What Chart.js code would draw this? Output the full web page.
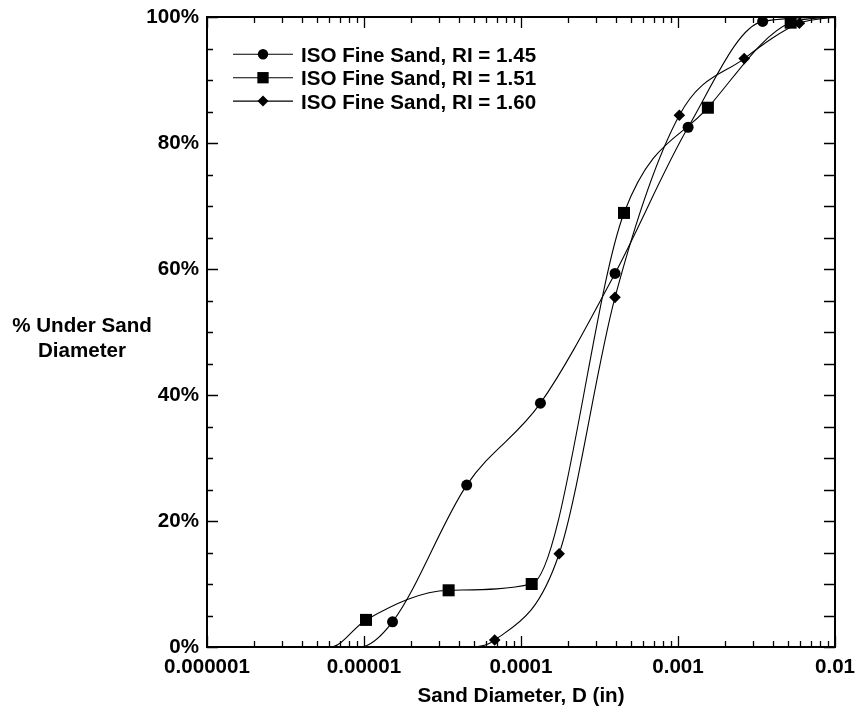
<!DOCTYPE html>
<html>
<head>
<meta charset="utf-8">
<script src="https://cdn.jsdelivr.net/npm/chart.js@4/dist/chart.umd.min.js"></script>
<style>
  html, body { margin: 0; padding: 0; background: #fff; }
  #wrap { width: 856px; height: 708px; }
</style>
</head>
<body>
<div id="wrap"><canvas id="c" width="856" height="708"></canvas></div>
<script>
// ---- data -------------------------------------------------------------
const seriesNames = [
  'ISO Fine Sand, RI = 1.45',
  'ISO Fine Sand, RI = 1.51',
  'ISO Fine Sand, RI = 1.60'
];
const diam145 = [1.52e-5, 4.51e-5, 1.33e-4, 3.97e-4, 1.16e-3, 3.46e-3];
const pct145  = [4.0, 25.7, 38.7, 59.3, 82.5, 99.3];
const diam151 = [1.03e-5, 3.46e-5, 1.17e-4, 4.53e-4, 1.55e-3, 5.22e-3];
const pct151  = [4.3, 9.0, 10.0, 68.9, 85.6, 99.1];
const diam160 = [6.8e-5, 1.75e-4, 3.97e-4, 1.02e-3, 2.64e-3, 5.93e-3];
const pct160  = [1.1, 14.8, 55.5, 84.4, 93.4, 99.0];
// diameter where each fitted curve leaves 0 %
const curveStart = [9.4e-6, 6.1e-6, 4.5e-5];
const xDecades = [1e-6, 1e-5, 1e-4, 1e-3, 1e-2];
const xTickLabels = ['0.000001', '0.00001', '0.0001', '0.001', '0.01'];
const yTickLabels = ['0%', '20%', '40%', '60%', '80%', '100%'];

// ---- styling ----------------------------------------------------------
const FONT = { family: '"Liberation Sans", Arial, sans-serif', size: 20.6, weight: 'bold' };
const FONT_CSS = 'bold 20.6px "Liberation Sans", Arial, sans-serif';
const markerStyles = ['circle', 'rect', 'rectRot'];
const markerRadii = [5.5, 8.5, 5.8];
const legendRadii = [5.2, 8.0, 5.5];

const X_MIN = xDecades[0], X_MAX = xDecades[xDecades.length - 1];

function buildCurve(diams, pcts, start) {
  const pts = [{ x: X_MIN, y: 0 }, { x: start, y: 0 }];
  diams.forEach((d, i) => pts.push({ x: d, y: pcts[i], marker: true }));
  pts.push({ x: X_MAX, y: 100 });
  return pts;
}

const series = [
  buildCurve(diam145, pct145, curveStart[0]),
  buildCurve(diam151, pct151, curveStart[1]),
  buildCurve(diam160, pct160, curveStart[2])
];

function drawMarker(ctx, style, x, y, r) {
  ctx.beginPath();
  if (style === 'circle') {
    ctx.arc(x, y, r, 0, Math.PI * 2);
  } else if (style === 'rect') {
    const s = r * Math.SQRT1_2;
    ctx.rect(x - s, y - s, 2 * s, 2 * s);
  } else {
    ctx.moveTo(x - r, y); ctx.lineTo(x, y - r);
    ctx.lineTo(x + r, y); ctx.lineTo(x, y + r);
    ctx.closePath();
  }
  ctx.fill();
}

// frame, inward tick marks, axis titles and the in-plot legend
const decorations = {
  id: 'decorations',
  afterDatasetsDraw(chart) {
    const { ctx, chartArea: a, scales } = chart;
    const xs = scales.x, ys = scales.y;
    ctx.save();
    ctx.strokeStyle = '#000';
    ctx.lineCap = 'butt';

    // ticks
    ctx.lineWidth = 1.3;
    ctx.beginPath();
    for (let e = -6; e <= -2; e++) {
      for (let k = 1; k <= 9; k++) {
        const v = k * Math.pow(10, e);
        if (v > X_MAX * 1.0001) break;
        const px = Math.round(xs.getPixelForValue(v)) + 0.5;
        const len = k === 1 ? 11 : 6;
        ctx.moveTo(px, a.bottom); ctx.lineTo(px, a.bottom - len);
        ctx.moveTo(px, a.top); ctx.lineTo(px, a.top + len);
      }
    }
    for (let v = 0; v <= 100; v += 5) {
      const py = Math.round(ys.getPixelForValue(v)) + 0.5;
      const len = v % 20 === 0 ? 11 : 6;
      ctx.moveTo(a.left, py); ctx.lineTo(a.left + len, py);
      ctx.moveTo(a.right, py); ctx.lineTo(a.right - 11, py);
    }
    ctx.stroke();

    // frame
    ctx.lineWidth = 2;
    ctx.strokeRect(a.left, a.top, a.right - a.left, a.bottom - a.top);

    // axis titles
    ctx.fillStyle = '#000';
    ctx.font = FONT_CSS;
    ctx.textAlign = 'center';
    ctx.textBaseline = 'alphabetic';
    ctx.fillText('Sand Diameter, D (in)', (a.left + a.right) / 2, 701.5);
    ctx.fillText('% Under Sand', 82, 332);
    ctx.fillText('Diameter', 82, 357);

    // legend
    ctx.textAlign = 'left';
    chart.data.datasets.forEach((ds, i) => {
      const cy = 54.3 + i * 23.4;
      ctx.lineWidth = 1.1;
      ctx.beginPath();
      ctx.moveTo(233, cy); ctx.lineTo(293, cy);
      ctx.stroke();
      drawMarker(ctx, markerStyles[i], 263, cy, legendRadii[i]);
      ctx.fillText(ds.label, 301, cy + 7.4);
    });
    ctx.restore();
  }
};

new Chart(document.getElementById('c'), {
  type: 'line',
  data: {
    datasets: series.map((pts, i) => ({
      label: seriesNames[i],
      data: pts,
      borderColor: '#000',
      backgroundColor: '#000',
      borderWidth: 1.1,
      fill: false,
      cubicInterpolationMode: 'monotone',
      pointStyle: markerStyles[i],
      pointRadius: c => (c.raw && c.raw.marker ? markerRadii[i] : 0),
      pointHoverRadius: c => (c.raw && c.raw.marker ? markerRadii[i] : 0),
      pointBorderWidth: 0,
      pointBackgroundColor: '#000'
    }))
  },
  options: {
    responsive: false,
    animation: false,
    devicePixelRatio: 1,
    events: [],
    layout: { padding: { top: 17, right: 21, left: 0, bottom: 0 } },
    plugins: { legend: { display: false }, tooltip: { enabled: false } },
    scales: {
      x: {
        type: 'logarithmic',
        min: X_MIN,
        max: X_MAX,
        grid: { display: false, drawTicks: false },
        border: { display: false },
        afterBuildTicks: s => { s.ticks = xDecades.map(v => ({ value: v })); },
        ticks: {
          autoSkip: false,
          maxRotation: 0,
          padding: 8,
          color: '#000',
          font: FONT,
          callback: (v, i) => xTickLabels[i]
        },
        afterFit: s => {
          s.height = 61;
          s.paddingLeft = 0; s.paddingRight = 0;
          s.paddingTop = 0; s.paddingBottom = 0;
        }
      },
      y: {
        min: 0,
        max: 100,
        grid: { display: false, drawTicks: false },
        border: { display: false },
        ticks: {
          stepSize: 20,
          padding: 8,
          color: '#000',
          font: FONT,
          callback: (v, i) => yTickLabels[i]
        },
        afterFit: s => {
          s.width = 207;
          s.paddingLeft = 0; s.paddingRight = 0;
          s.paddingTop = 0; s.paddingBottom = 0;
        }
      }
    }
  },
  plugins: [decorations]
});
</script>
</body>
</html>
